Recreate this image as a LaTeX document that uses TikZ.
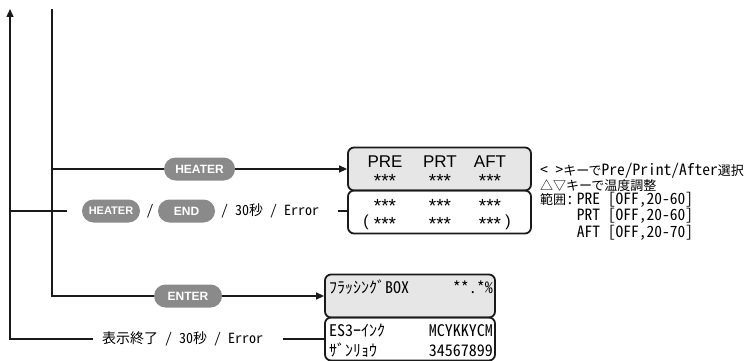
\documentclass[tikz,border=0pt]{standalone}
\usepackage{fontspec}
\setmainfont{Liberation Sans}
\newfontfamily\jpfont{Noto Sans CJK JP}
\newfontfamily\hwfont[RawFeature=+hwid]{Noto Sans CJK JP}
\usetikzlibrary{arrows.meta,positioning,shapes}
\definecolor{ink}     {HTML}{1A1A1A}
\definecolor{pillgray}{HTML}{8A8A8A}
\definecolor{lcdgray} {HTML}{E6E6E6}
\newcommand{\kana}[1]{{\jpfont\fontsize{13}{13}\selectfont #1}}

\begin{document}
\begin{tikzpicture}[x=1pt,y=-1pt,
    line/.style={ink,line width=1.4pt},
    arr/.style={line,-{Triangle[length=8pt,width=7pt]}},
    pill/.style={fill=pillgray,text=white,font=\bfseries\fontsize{12}{12}\selectfont,
                 rounded corners=11.5pt,minimum height=23pt,inner sep=0pt},
    lcd/.style={draw=ink,line width=1.8pt,rounded corners=6pt,inner sep=0pt,minimum height=43pt},
    lbl/.style={font=\hwfont\fontsize{14}{14}\selectfont,inner sep=0pt},
    note/.style={font=\hwfont\fontsize{15.5}{14.6}\selectfont,inner sep=0pt,align=left},
    lcdtxt/.style={font=\hwfont\fontsize{16}{16}\selectfont,inner sep=0pt},
    big/.style={font=\fontsize{17}{17}\selectfont,inner sep=0pt,anchor=base},
    star/.style={font=\fontsize{19}{18}\selectfont,inner sep=0pt,align=center}]
  \useasboundingbox (0,0) rectangle (750,361);

  % LCD boxes
  \node[lcd,fill=lcdgray,minimum width=183pt] (heatTop)  at (439.5,169) {};
  \node[lcd,minimum width=183pt]              (heatBot)  at (439.5,212) {};
  \node[lcd,fill=lcdgray,minimum width=170pt] (flushTop) at (410,296) {};
  \node[lcd,minimum width=170pt]              (flushBot) at (410,339) {};

  % heater display
  \foreach \c/\x in {PRE/385,PRT/440,AFT/490} {
    \node[big]  (hd\c) at (\x,167) {\c};
    \node[star,anchor=base] (sa\c) at (\x,187.5) {***};
    \node[star,anchor=north] (sb\c) at (\x,199.5) {***\\***};
  }
  \node[big,font=\fontsize{16}{16}\selectfont] (parL) at (366,226.5) {(};
  \node[big,font=\fontsize{16}{16}\selectfont] (parR) at (508,226.5) {)};

  % flushing display
  \node[lcdtxt,anchor=base west] (flushTxt) at (329,293) {ﾌﾗｯｼﾝｸﾞBOX};
  \node[lcdtxt,anchor=base east] (flushVal) at (493,293) {**.*\%};
  \node[lcdtxt,anchor=base west] (inkTxt)   at (329,336) {ES3ｰｲﾝｸ};
  \node[lcdtxt,anchor=base east] (inkVal)   at (493,336) {MCYKKYCM};
  \node[lcdtxt,anchor=base west] (remTxt)   at (329,356) {ｻﾞﾝﾘｮｳ};
  \node[lcdtxt,anchor=base east] (remVal)   at (493,356) {34567899};

  % notes
  \node[note,anchor=north west] (notes) at (540,163) {<\ >\kana{キーで}Pre/Print/After\kana{選択}\\
    \kana{△▽キーで温度調整}\\
    \kana{範囲}:\hspace{3pt}PRE [OFF,20-60]\\
    \hphantom{\kana{範囲}:}\hspace{3pt}PRT [OFF,20-60]\\
    \hphantom{\kana{範囲}:}\hspace{3pt}AFT [OFF,20-70]};

  % flow lines
  \coordinate (topA) at (10,9);
  \coordinate (topB) at (52,9);
  \coordinate (gapL) at (67,211);
  \coordinate (gapR) at (338,211);
  \coordinate (endL) at (93,339);
  \coordinate (endR) at (283,339);

  \draw[arr] (topB |- heatTop) -- node[pill,minimum width=71pt] (pHeat) {HEATER} (heatTop.west);
  \draw[arr] (topB) -- (topB |- flushTop) -- node[pill,minimum width=68pt] (pEnter) {ENTER} (flushTop.west);

  \draw[line] (heatBot.west |- gapR) -- (gapR);
  \draw[line] (gapL) -- (topA |- gapL);
  \node[pill,minimum width=58pt,font=\bfseries\fontsize{11}{11}\selectfont] (pHeat2) at (111,211) {HEATER};
  \node[lbl] (slashA) at (150,211) {/};
  \node[pill,minimum width=57pt] (pEnd) at (186.5,211) {END};
  \node[lbl] (retA) at (270,211) {/ 30秒 / Error};

  \draw[line] (flushBot.west) -- (endR);
  \draw[arr] (endL) -- (topA |- endL) -- (topA);
  \node[lbl] (retB) at (182.5,339) {表示終了 / 30秒 / Error};
\end{tikzpicture}
\end{document}
